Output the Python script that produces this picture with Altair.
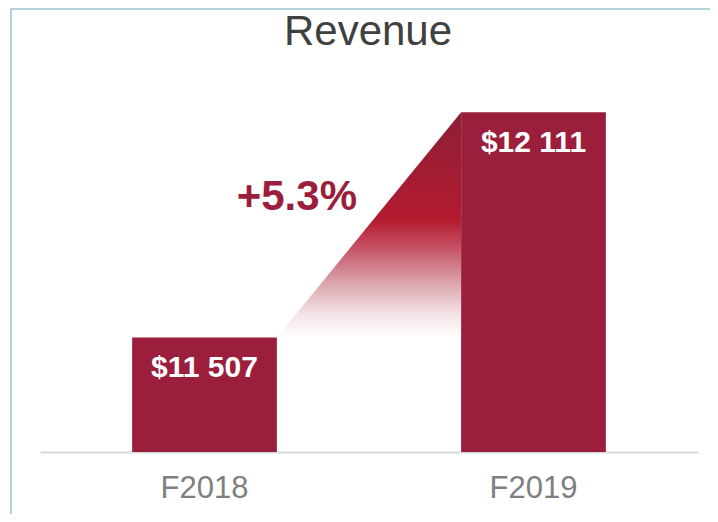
import altair as alt
import pandas as pd

# ---- data ----
categories = ["F2018", "F2019"]
revenue = [11507, 12111]
change_label = "+5.3%"
chart_title = "Revenue"

BAR_COLOR = "#9b1f3c"
PAD_INNER = 0.56
PAD_OUTER = 0.28
Y_DOMAIN = [11200, 12200]
W, H = 658, 373

bars_df = pd.DataFrame({
    "cat": categories,
    "value": revenue,
    "label": ["$" + f"{v:,}".replace(",", " ") for v in revenue],
})

# connector triangle between right edge of first bar and left edge of second bar
bw = 1 - PAD_INNER
x_left = PAD_OUTER + bw            # right edge of bar 1 (in step units)
x_right = 1 + PAD_OUTER            # left edge of bar 2
area_df = pd.DataFrame({
    "x": [x_left, x_right],
    "y": revenue,
    "y2": [revenue[0], revenue[0]],
})
pct_df = pd.DataFrame({
    "x": [(x_left + x_right) / 2],
    "y": [(revenue[0] + revenue[1]) / 2],
    "t": [change_label],
})

xband = alt.Scale(domain=categories, paddingInner=PAD_INNER, paddingOuter=PAD_OUTER)
yscale = alt.Scale(domain=Y_DOMAIN, zero=False, nice=False)
xq = alt.Scale(domain=[0, 2], nice=False, zero=False)

bars = alt.Chart(bars_df).mark_bar(color=BAR_COLOR, clip=True).encode(
    x=alt.X("cat:N", scale=xband, sort=categories,
            axis=alt.Axis(title=None, labelAngle=0, ticks=False, tickSize=0,
                          labelFontSize=31, labelColor="#7f7f7f",
                          labelFont="Liberation Sans", labelPadding=21,
                          domainColor="#d9d9d9", domainWidth=2, grid=False)),
    y=alt.Y("value:Q", scale=yscale, axis=None),
)

bar_labels = alt.Chart(bars_df).mark_text(
    color="white", fontSize=30, fontWeight="bold", font="Liberation Sans",
    baseline="middle", dy=31,
).encode(
    x=alt.X("cat:N", scale=xband, sort=categories, axis=None),
    y=alt.Y("value:Q", scale=yscale, axis=None),
    text="label:N",
)

grad = alt.Gradient(
    gradient="linear", x1=0, x2=0, y1=0, y2=1,
    stops=[
        alt.GradientStop(color="#8c1f35", offset=0),
        alt.GradientStop(color="#b41b2f", offset=0.48),
        alt.GradientStop(color="#c2485a", offset=0.58),
        alt.GradientStop(color="#daa0a9", offset=0.75),
        alt.GradientStop(color="#f4e4e7", offset=0.9),
        alt.GradientStop(color="#ffffff", offset=1),
    ],
)
area = alt.Chart(area_df).mark_area(color=grad).encode(
    x=alt.X("x:Q", scale=xq, axis=None),
    y=alt.Y("y:Q", scale=yscale, axis=None),
    y2="y2:Q",
)

pct = alt.Chart(pct_df).mark_text(
    color=BAR_COLOR, fontSize=42, fontWeight="bold", font="Liberation Sans",
    align="right", baseline="alphabetic", dx=-12, dy=-15,
).encode(
    x=alt.X("x:Q", scale=xq, axis=None),
    y=alt.Y("y:Q", scale=yscale, axis=None),
    text="t:N",
)

title_df = pd.DataFrame({"t": [chart_title]})
title = alt.Chart(title_df).mark_text(
    fontSize=42, font="Liberation Sans", color="#404040",
    align="center", baseline="alphabetic",
).encode(
    x=alt.value(W / 2 - 1), y=alt.value(-34), text="t:N",
)

frame_df = pd.DataFrame({"k": [0]})
frame_left = alt.Chart(frame_df).mark_rule(color="#b4d2de", strokeWidth=2).encode(
    x=alt.value(-29), y=alt.value(-70), y2=alt.value(440),
)
frame_top = alt.Chart(frame_df).mark_rule(color="#b4d2de", strokeWidth=2).encode(
    x=alt.value(-30), x2=alt.value(680), y=alt.value(-70),
)

chart = alt.layer(area, bars, bar_labels, pct, title, frame_left, frame_top).resolve_scale(
    x="independent"
).properties(
    width=W, height=H,
    autosize=alt.AutoSizeParams(type="none"),
    padding={"left": 32, "top": 71, "right": 12, "bottom": 62},
).configure_view(stroke=None)

chart.save("out.html", embed_options={"renderer": "svg", "actions": False})
